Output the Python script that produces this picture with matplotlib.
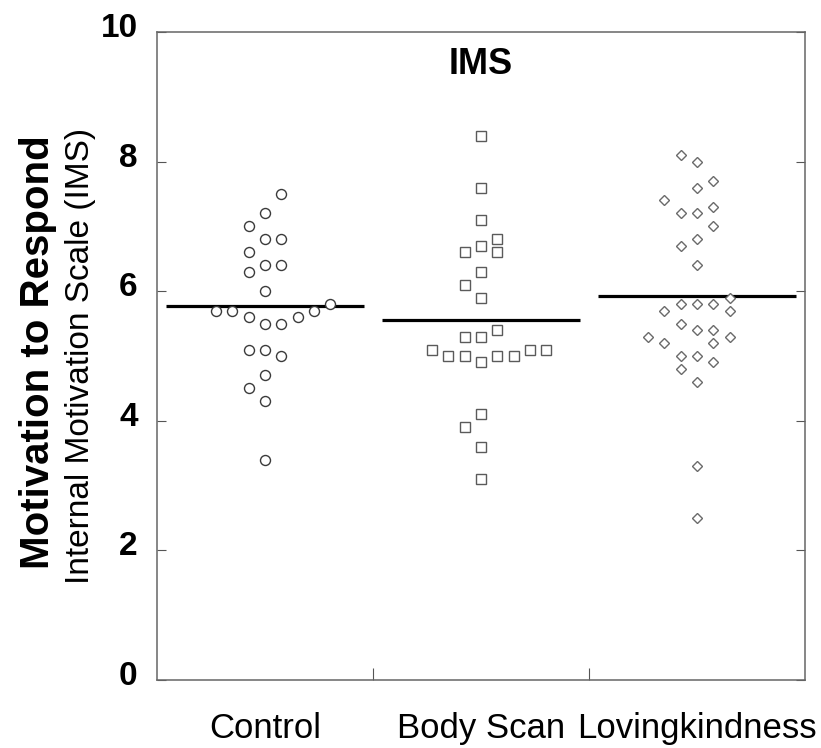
import numpy as np
import matplotlib
matplotlib.use("Agg")
import matplotlib.pyplot as plt
from matplotlib.transforms import ScaledTranslation

plt.rcParams['font.family'] = ['Liberation Sans', 'DejaVu Sans']

# values, one list per group
groups = ['Control', 'Body Scan', 'Lovingkindness']

control = [7.5, 7.2, 7.0, 6.8, 6.8, 6.6, 6.4, 6.4, 6.3, 6.0, 5.8,
           5.7, 5.7, 5.7, 5.6, 5.6, 5.5, 5.5, 5.1, 5.1, 5.0, 4.7, 4.5, 4.3, 3.4]
control_col = [1, 0, -1, 0, 1, -1, 0, 1, -1, 0, 4,
               -3, -2, 3, -1, 2, 0, 1, -1, 0, 1, 0, -1, 0, 0]

body_scan = [8.4, 7.6, 7.1, 6.8, 6.7, 6.6, 6.6, 6.3, 6.1, 5.9, 5.4, 5.3, 5.3,
             5.1, 5.1, 5.1, 5.0, 5.0, 5.0, 5.0, 4.9, 4.1, 3.9, 3.6, 3.1]
body_scan_col = [0, 0, 0, 1, 0, -1, 1, 0, -1, 0, 1, -1, 0,
                 -3, 3, 4, -2, -1, 1, 2, 0, 0, -1, 0, 0]

loving = [8.1, 8.0, 7.7, 7.6, 7.4, 7.2, 7.2, 7.3, 7.0, 6.8, 6.7, 6.4, 5.9,
          5.8, 5.8, 5.8, 5.7, 5.7, 5.5, 5.4, 5.4, 5.3, 5.3, 5.2, 5.2,
          5.0, 5.0, 4.9, 4.8, 4.6, 3.3, 2.5]
loving_col = [-1, 0, 1, 0, -2, -1, 0, 1, 1, 0, -1, 0, 2,
              -1, 0, 1, -2, 2, -1, 0, 1, -3, 2, -2, 1,
              -1, 0, 1, -1, 0, 0, 0]

data = [control, body_scan, loving]
cols = [control_col, body_scan_col, loving_col]
markers = [('o', 7.2, '#3a3a3a'), ('s', 6.6, '#5a5a5a'), ('D', 5.0, '#6a6a6a')]
step = 0.0756   # horizontal spacing of stacked points
half = 0.46     # half length of the mean line

fig = plt.figure(figsize=(8.21, 7.48), dpi=100)
ax = fig.add_axes([157/821, 68/748, 648/821, 648/748])

for i, (vals, cc, (m, ms, c)) in enumerate(zip(data, cols, markers)):
    x = i + 1 + np.array(cc) * step
    ax.plot(x, vals, linestyle='none', marker=m, markersize=ms,
            markerfacecolor='white', markeredgecolor=c, markeredgewidth=1.0,
            zorder=3)
    mean = np.mean(vals)
    ax.plot([i + 1 - half, i + 1 + half], [mean, mean], color='black',
            linewidth=2.3, solid_capstyle='butt', zorder=2)

ax.set_xlim(0.5, 3.5)
ax.set_ylim(0, 10)

ax.set_yticks([0, 2, 4, 6, 8, 10])
ax.tick_params(axis='y', direction='in', length=6.5, width=0.8, color='#555555',
               right=True, labelsize=24, pad=14)
for lbl in ax.get_yticklabels():
    lbl.set_fontweight('bold')
    lbl.set_transform(lbl.get_transform() + ScaledTranslation(0, 0.07, fig.dpi_scale_trans))

ax.set_xticks([1.5, 2.5])
ax.set_xticklabels([])
ax.set_xticks([1, 2, 3], minor=True)
ax.set_xticklabels(groups, minor=True)
ax.tick_params(axis='x', which='major', direction='in', length=9, width=0.8, color='#555555')
ax.tick_params(axis='x', which='minor', length=0, labelsize=25, pad=23)

for s in ax.spines.values():
    s.set_color('#666666')
    s.set_linewidth(1.1)

ax.text(2, 9.5, 'IMS', ha='center', va='center', fontsize=26, fontweight='bold')

fig.text(38/821, 1 - 352/748, 'Motivation to Respond', rotation=90,
         ha='center', va='center', fontsize=29, fontweight='bold')
fig.text(81/821, 1 - 356/748, 'Internal Motivation Scale (IMS)', rotation=90,
         ha='center', va='center', fontsize=24)

fig.savefig('out.png', dpi=100)
